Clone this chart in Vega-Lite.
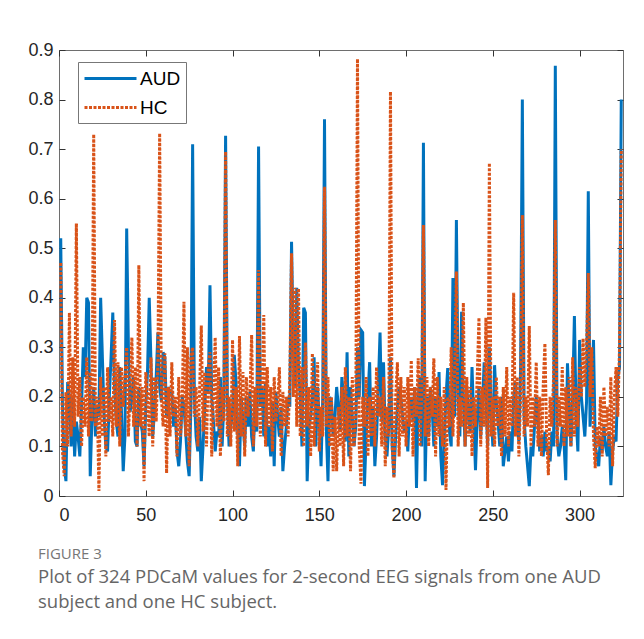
{
"$schema": "https://vega.github.io/schema/vega-lite/v6.json",
"width": 564, "height": 446,
"autosize": {"type": "none"},
"padding": {"left": 59, "top": 50, "right": 21, "bottom": 143},
"background": "white",
"config": {"view": {"stroke": "#6e6e6e", "strokeWidth": 1}, "font": "Liberation Sans"},
"title": {"text": "FIGURE 3", "subtitle": ["Plot of 324 PDCaM values for 2-second EEG signals from one AUD", "subject and one HC subject."], "orient": "bottom", "anchor": "start", "frame": "group", "dx": -21, "offset": 23, "font": "Open Sans", "fontSize": 15, "fontWeight": "normal", "color": "#777777", "subtitleFont": "Open Sans", "subtitleFontSize": 18.5, "subtitleColor": "#666666", "subtitlePadding": 6, "subtitleLineHeight": 25},
"data": {"values": [
{"i":1,"AUD":0.52,"HC":0.47},{"i":2,"AUD":0.18,"HC":0.09},{"i":3,"AUD":0.06,"HC":0.04},{"i":4,"AUD":0.03,"HC":0.21},{"i":5,"AUD":0.23,"HC":0.1},{"i":6,"AUD":0.2,"HC":0.37},{"i":7,"AUD":0.1,"HC":0.12},{"i":8,"AUD":0.2,"HC":0.28},{"i":9,"AUD":0.08,"HC":0.14},{"i":10,"AUD":0.15,"HC":0.55},
{"i":11,"AUD":0.12,"HC":0.16},{"i":12,"AUD":0.08,"HC":0.24},{"i":13,"AUD":0.18,"HC":0.1},{"i":14,"AUD":0.3,"HC":0.2},{"i":15,"AUD":0.24,"HC":0.14},{"i":16,"AUD":0.4,"HC":0.28},{"i":17,"AUD":0.39,"HC":0.12},{"i":18,"AUD":0.04,"HC":0.25},{"i":19,"AUD":0.16,"HC":0.15},{"i":20,"AUD":0.22,"HC":0.73},
{"i":21,"AUD":0.12,"HC":0.14},{"i":22,"AUD":0.18,"HC":0.2},{"i":23,"AUD":0.16,"HC":0.01},{"i":24,"AUD":0.4,"HC":0.24},{"i":25,"AUD":0.28,"HC":0.12},{"i":26,"AUD":0.16,"HC":0.22},{"i":27,"AUD":0.1,"HC":0.08},{"i":28,"AUD":0.09,"HC":0.26},{"i":29,"AUD":0.2,"HC":0.15},{"i":30,"AUD":0.28,"HC":0.2},
{"i":31,"AUD":0.37,"HC":0.12},{"i":32,"AUD":0.22,"HC":0.355},{"i":33,"AUD":0.15,"HC":0.14},{"i":34,"AUD":0.12,"HC":0.27},{"i":35,"AUD":0.26,"HC":0.1},{"i":36,"AUD":0.17,"HC":0.26},{"i":37,"AUD":0.05,"HC":0.18},{"i":38,"AUD":0.12,"HC":0.24},{"i":39,"AUD":0.54,"HC":0.3},{"i":40,"AUD":0.3,"HC":0.12},
{"i":41,"AUD":0.17,"HC":0.22},{"i":42,"AUD":0.2,"HC":0.32},{"i":43,"AUD":0.24,"HC":0.14},{"i":44,"AUD":0.11,"HC":0.26},{"i":45,"AUD":0.1,"HC":0.1},{"i":46,"AUD":0.22,"HC":0.466},{"i":47,"AUD":0.15,"HC":0.14},{"i":48,"AUD":0.13,"HC":0.22},{"i":49,"AUD":0.06,"HC":0.03},{"i":50,"AUD":0.18,"HC":0.25},
{"i":51,"AUD":0.25,"HC":0.2},{"i":52,"AUD":0.4,"HC":0.12},{"i":53,"AUD":0.27,"HC":0.28},{"i":54,"AUD":0.12,"HC":0.1},{"i":55,"AUD":0.17,"HC":0.24},{"i":56,"AUD":0.24,"HC":0.15},{"i":57,"AUD":0.33,"HC":0.27},{"i":58,"AUD":0.22,"HC":0.732},{"i":59,"AUD":0.19,"HC":0.2},{"i":60,"AUD":0.29,"HC":0.14},
{"i":61,"AUD":0.28,"HC":0.288},{"i":62,"AUD":0.16,"HC":0.046},{"i":63,"AUD":0.22,"HC":0.22},{"i":64,"AUD":0.21,"HC":0.12},{"i":65,"AUD":0.21,"HC":0.27},{"i":66,"AUD":0.14,"HC":0.16},{"i":67,"AUD":0.18,"HC":0.2},{"i":68,"AUD":0.09,"HC":0.08},{"i":69,"AUD":0.06,"HC":0.24},{"i":70,"AUD":0.11,"HC":0.12},
{"i":71,"AUD":0.2,"HC":0.18},{"i":72,"AUD":0.18,"HC":0.392},{"i":73,"AUD":0.13,"HC":0.12},{"i":74,"AUD":0.07,"HC":0.3},{"i":75,"AUD":0.04,"HC":0.06},{"i":76,"AUD":0.18,"HC":0.28},{"i":77,"AUD":0.71,"HC":0.3},{"i":78,"AUD":0.2,"HC":0.16},{"i":79,"AUD":0.12,"HC":0.22},{"i":80,"AUD":0.09,"HC":0.1},
{"i":81,"AUD":0.16,"HC":0.21},{"i":82,"AUD":0.03,"HC":0.344},{"i":83,"AUD":0.1,"HC":0.13},{"i":84,"AUD":0.18,"HC":0.25},{"i":85,"AUD":0.26,"HC":0.1},{"i":86,"AUD":0.21,"HC":0.26},{"i":87,"AUD":0.425,"HC":0.29},{"i":88,"AUD":0.2,"HC":0.08},{"i":89,"AUD":0.15,"HC":0.2},{"i":90,"AUD":0.09,"HC":0.32},
{"i":91,"AUD":0.13,"HC":0.14},{"i":92,"AUD":0.12,"HC":0.26},{"i":93,"AUD":0.24,"HC":0.08},{"i":94,"AUD":0.1,"HC":0.22},{"i":95,"AUD":0.19,"HC":0.15},{"i":96,"AUD":0.727,"HC":0.695},{"i":97,"AUD":0.2,"HC":0.12},{"i":98,"AUD":0.1,"HC":0.2},{"i":99,"AUD":0.14,"HC":0.1},{"i":100,"AUD":0.17,"HC":0.315},
{"i":101,"AUD":0.285,"HC":0.13},{"i":102,"AUD":0.23,"HC":0.22},{"i":103,"AUD":0.13,"HC":0.06},{"i":104,"AUD":0.06,"HC":0.323},{"i":105,"AUD":0.2,"HC":0.12},{"i":106,"AUD":0.15,"HC":0.25},{"i":107,"AUD":0.1,"HC":0.08},{"i":108,"AUD":0.2,"HC":0.24},{"i":109,"AUD":0.14,"HC":0.16},{"i":110,"AUD":0.21,"HC":0.2},
{"i":111,"AUD":0.12,"HC":0.325},{"i":112,"AUD":0.09,"HC":0.1},{"i":113,"AUD":0.2,"HC":0.22},{"i":114,"AUD":0.13,"HC":0.14},{"i":115,"AUD":0.705,"HC":0.456},{"i":116,"AUD":0.18,"HC":0.12},{"i":117,"AUD":0.22,"HC":0.2},{"i":118,"AUD":0.12,"HC":0.365},{"i":119,"AUD":0.23,"HC":0.1},{"i":120,"AUD":0.1,"HC":0.26},
{"i":121,"AUD":0.14,"HC":0.14},{"i":122,"AUD":0.08,"HC":0.22},{"i":123,"AUD":0.19,"HC":0.09},{"i":124,"AUD":0.06,"HC":0.24},{"i":125,"AUD":0.21,"HC":0.15},{"i":126,"AUD":0.16,"HC":0.18},{"i":127,"AUD":0.12,"HC":0.26},{"i":128,"AUD":0.18,"HC":0.08},{"i":129,"AUD":0.05,"HC":0.21},{"i":130,"AUD":0.1,"HC":0.14},
{"i":131,"AUD":0.14,"HC":0.2},{"i":132,"AUD":0.2,"HC":0.12},{"i":133,"AUD":0.18,"HC":0.24},{"i":134,"AUD":0.513,"HC":0.49},{"i":135,"AUD":0.3,"HC":0.2},{"i":136,"AUD":0.22,"HC":0.42},{"i":137,"AUD":0.42,"HC":0.14},{"i":138,"AUD":0.26,"HC":0.419},{"i":139,"AUD":0.2,"HC":0.12},{"i":140,"AUD":0.1,"HC":0.26},
{"i":141,"AUD":0.38,"HC":0.1},{"i":142,"AUD":0.37,"HC":0.31},{"i":143,"AUD":0.03,"HC":0.14},{"i":144,"AUD":0.14,"HC":0.22},{"i":145,"AUD":0.16,"HC":0.08},{"i":146,"AUD":0.2,"HC":0.288},{"i":147,"AUD":0.28,"HC":0.1},{"i":148,"AUD":0.1,"HC":0.2},{"i":149,"AUD":0.22,"HC":0.27},{"i":150,"AUD":0.15,"HC":0.09},
{"i":151,"AUD":0.06,"HC":0.18},{"i":152,"AUD":0.2,"HC":0.12},{"i":153,"AUD":0.76,"HC":0.624},{"i":154,"AUD":0.14,"HC":0.14},{"i":155,"AUD":0.03,"HC":0.24},{"i":156,"AUD":0.2,"HC":0.1},{"i":157,"AUD":0.19,"HC":0.2},{"i":158,"AUD":0.12,"HC":0.05},{"i":159,"AUD":0.16,"HC":0.16},{"i":160,"AUD":0.22,"HC":0.05},
{"i":161,"AUD":0.18,"HC":0.18},{"i":162,"AUD":0.13,"HC":0.1},{"i":163,"AUD":0.24,"HC":0.22},{"i":164,"AUD":0.2,"HC":0.06},{"i":165,"AUD":0.11,"HC":0.26},{"i":166,"AUD":0.29,"HC":0.12},{"i":167,"AUD":0.08,"HC":0.2},{"i":168,"AUD":0.22,"HC":0.05},{"i":169,"AUD":0.16,"HC":0.24},{"i":170,"AUD":0.1,"HC":0.1},
{"i":171,"AUD":0.14,"HC":0.16},{"i":172,"AUD":0.3,"HC":0.882},{"i":173,"AUD":0.2,"HC":0.1},{"i":174,"AUD":0.335,"HC":0.025},{"i":175,"AUD":0.33,"HC":0.2},{"i":176,"AUD":0.02,"HC":0.14},{"i":177,"AUD":0.12,"HC":0.24},{"i":178,"AUD":0.2,"HC":0.08},{"i":179,"AUD":0.27,"HC":0.2},{"i":180,"AUD":0.1,"HC":0.12},
{"i":181,"AUD":0.18,"HC":0.22},{"i":182,"AUD":0.06,"HC":0.1},{"i":183,"AUD":0.12,"HC":0.26},{"i":184,"AUD":0.22,"HC":0.16},{"i":185,"AUD":0.33,"HC":0.2},{"i":186,"AUD":0.15,"HC":0.1},{"i":187,"AUD":0.27,"HC":0.24},{"i":188,"AUD":0.12,"HC":0.06},{"i":189,"AUD":0.08,"HC":0.18},{"i":190,"AUD":0.14,"HC":0.12},
{"i":191,"AUD":0.28,"HC":0.816},{"i":192,"AUD":0.1,"HC":0.1},{"i":193,"AUD":0.04,"HC":0.036},{"i":194,"AUD":0.12,"HC":0.2},{"i":195,"AUD":0.18,"HC":0.27},{"i":196,"AUD":0.22,"HC":0.08},{"i":197,"AUD":0.2,"HC":0.24},{"i":198,"AUD":0.16,"HC":0.12},{"i":199,"AUD":0.13,"HC":0.22},{"i":200,"AUD":0.15,"HC":0.1},
{"i":201,"AUD":0.09,"HC":0.24},{"i":202,"AUD":0.18,"HC":0.14},{"i":203,"AUD":0.2,"HC":0.274},{"i":204,"AUD":0.15,"HC":0.08},{"i":205,"AUD":0.22,"HC":0.22},{"i":206,"AUD":0.016,"HC":0.16},{"i":207,"AUD":0.2,"HC":0.278},{"i":208,"AUD":0.24,"HC":0.1},{"i":209,"AUD":0.1,"HC":0.2},{"i":210,"AUD":0.713,"HC":0.547},
{"i":211,"AUD":0.03,"HC":0.12},{"i":212,"AUD":0.2,"HC":0.24},{"i":213,"AUD":0.12,"HC":0.1},{"i":214,"AUD":0.22,"HC":0.22},{"i":215,"AUD":0.18,"HC":0.16},{"i":216,"AUD":0.1,"HC":0.278},{"i":217,"AUD":0.2,"HC":0.08},{"i":218,"AUD":0.14,"HC":0.24},{"i":219,"AUD":0.25,"HC":0.12},{"i":220,"AUD":0.08,"HC":0.2},
{"i":221,"AUD":0.022,"HC":0.1},{"i":222,"AUD":0.12,"HC":0.22},{"i":223,"AUD":0.2,"HC":0.012},{"i":224,"AUD":0.258,"HC":0.2},{"i":225,"AUD":0.13,"HC":0.14},{"i":226,"AUD":0.1,"HC":0.3},{"i":227,"AUD":0.44,"HC":0.12},{"i":228,"AUD":0.16,"HC":0.25},{"i":229,"AUD":0.557,"HC":0.453},{"i":230,"AUD":0.2,"HC":0.1},
{"i":231,"AUD":0.12,"HC":0.2},{"i":232,"AUD":0.372,"HC":0.14},{"i":233,"AUD":0.2,"HC":0.39},{"i":234,"AUD":0.1,"HC":0.1},{"i":235,"AUD":0.22,"HC":0.24},{"i":236,"AUD":0.16,"HC":0.12},{"i":237,"AUD":0.13,"HC":0.22},{"i":238,"AUD":0.26,"HC":0.08},{"i":239,"AUD":0.15,"HC":0.2},{"i":240,"AUD":0.052,"HC":0.14},
{"i":241,"AUD":0.16,"HC":0.24},{"i":242,"AUD":0.22,"HC":0.36},{"i":243,"AUD":0.12,"HC":0.1},{"i":244,"AUD":0.18,"HC":0.22},{"i":245,"AUD":0.27,"HC":0.14},{"i":246,"AUD":0.2,"HC":0.36},{"i":247,"AUD":0.1,"HC":0.016},{"i":248,"AUD":0.3,"HC":0.672},{"i":249,"AUD":0.17,"HC":0.12},{"i":250,"AUD":0.1,"HC":0.2},
{"i":251,"AUD":0.264,"HC":0.1},{"i":252,"AUD":0.19,"HC":0.24},{"i":253,"AUD":0.15,"HC":0.14},{"i":254,"AUD":0.1,"HC":0.2},{"i":255,"AUD":0.2,"HC":0.08},{"i":256,"AUD":0.06,"HC":0.22},{"i":257,"AUD":0.09,"HC":0.12},{"i":258,"AUD":0.12,"HC":0.26},{"i":259,"AUD":0.07,"HC":0.1},{"i":260,"AUD":0.13,"HC":0.2},
{"i":261,"AUD":0.09,"HC":0.14},{"i":262,"AUD":0.2,"HC":0.41},{"i":263,"AUD":0.23,"HC":0.12},{"i":264,"AUD":0.14,"HC":0.24},{"i":265,"AUD":0.11,"HC":0.08},{"i":266,"AUD":0.26,"HC":0.2},{"i":267,"AUD":0.8,"HC":0.567},{"i":268,"AUD":0.16,"HC":0.12},{"i":269,"AUD":0.1,"HC":0.2},{"i":270,"AUD":0.06,"HC":0.14},
{"i":271,"AUD":0.02,"HC":0.343},{"i":272,"AUD":0.1,"HC":0.1},{"i":273,"AUD":0.08,"HC":0.2},{"i":274,"AUD":0.14,"HC":0.14},{"i":275,"AUD":0.2,"HC":0.27},{"i":276,"AUD":0.15,"HC":0.1},{"i":277,"AUD":0.09,"HC":0.2},{"i":278,"AUD":0.12,"HC":0.08},{"i":279,"AUD":0.08,"HC":0.22},{"i":280,"AUD":0.13,"HC":0.308},
{"i":281,"AUD":0.09,"HC":0.12},{"i":282,"AUD":0.1,"HC":0.042},{"i":283,"AUD":0.07,"HC":0.2},{"i":284,"AUD":0.13,"HC":0.14},{"i":285,"AUD":0.1,"HC":0.24},{"i":286,"AUD":0.868,"HC":0.557},{"i":287,"AUD":0.12,"HC":0.1},{"i":288,"AUD":0.08,"HC":0.2},{"i":289,"AUD":0.1,"HC":0.14},{"i":290,"AUD":0.14,"HC":0.26},
{"i":291,"AUD":0.11,"HC":0.1},{"i":292,"AUD":0.032,"HC":0.22},{"i":293,"AUD":0.268,"HC":0.12},{"i":294,"AUD":0.18,"HC":0.24},{"i":295,"AUD":0.1,"HC":0.1},{"i":296,"AUD":0.2,"HC":0.28},{"i":297,"AUD":0.363,"HC":0.12},{"i":298,"AUD":0.16,"HC":0.22},{"i":299,"AUD":0.09,"HC":0.14},{"i":300,"AUD":0.315,"HC":0.26},
{"i":301,"AUD":0.2,"HC":0.2},{"i":302,"AUD":0.16,"HC":0.318},{"i":303,"AUD":0.12,"HC":0.22},{"i":304,"AUD":0.19,"HC":0.3},{"i":305,"AUD":0.615,"HC":0.45},{"i":306,"AUD":0.14,"HC":0.2},{"i":307,"AUD":0.2,"HC":0.3},{"i":308,"AUD":0.315,"HC":0.12},{"i":309,"AUD":0.1,"HC":0.056},{"i":310,"AUD":0.08,"HC":0.14},
{"i":311,"AUD":0.06,"HC":0.1},{"i":312,"AUD":0.12,"HC":0.2},{"i":313,"AUD":0.09,"HC":0.08},{"i":314,"AUD":0.14,"HC":0.22},{"i":315,"AUD":0.1,"HC":0.12},{"i":316,"AUD":0.08,"HC":0.18},{"i":317,"AUD":0.13,"HC":0.1},{"i":318,"AUD":0.022,"HC":0.24},{"i":319,"AUD":0.09,"HC":0.06},{"i":320,"AUD":0.12,"HC":0.2},
{"i":321,"AUD":0.11,"HC":0.26},{"i":322,"AUD":0.24,"HC":0.16},{"i":323,"AUD":0.26,"HC":0.3},{"i":324,"AUD":0.8,"HC":0.7}
]},
"transform": [{"fold": ["AUD", "HC"], "as": ["series", "value"]}],
"layer": [
{"mark": {"type": "line", "strokeWidth": 3, "strokeCap": "butt", "strokeJoin": "miter"},
 "encoding": {
  "x": {"field": "i", "type": "quantitative", "scale": {"domain": [0, 325], "nice": false, "zero": false},
        "axis": {"orient": "bottom", "title": null, "values": [0, 50, 100, 150, 200, 250, 300], "grid": false, "domain": false, "tickSize": -6, "tickColor": "#333333", "labelPadding": 16, "labelFont": "Liberation Sans", "labelFontSize": 18, "labelColor": "#262626"}},
  "y": {"field": "value", "type": "quantitative", "scale": {"domain": [0, 0.9], "nice": false},
        "axis": {"orient": "left", "title": null, "values": [0, 0.1, 0.2, 0.3, 0.4, 0.5, 0.6, 0.7, 0.8, 0.9], "format": ".1~f", "grid": false, "domain": false, "tickSize": -6, "tickColor": "#333333", "labelPadding": 12, "labelFont": "Liberation Sans", "labelFontSize": 18, "labelColor": "#262626"}},
  "color": {"field": "series", "type": "nominal", "scale": {"domain": ["AUD", "HC"], "range": ["#0072BD", "#D95319"]},
            "legend": {"title": null, "orient": "none", "legendX": 19, "legendY": 12, "strokeColor": "#777777", "fillColor": "white", "padding": 5, "symbolType": "M-1,0H4.2", "symbolSize": 400, "symbolStrokeWidth": 3, "labelFont": "Liberation Sans", "labelFontSize": 19, "labelColor": "#000000", "labelOffset": 34, "rowPadding": 7}},
  "strokeDash": {"field": "series", "type": "nominal", "scale": {"domain": ["AUD", "HC"], "range": [[1, 0], [3, 1.5]]}, "legend": {"title": null}}
 }},
{"mark": {"type": "line", "opacity": 0},
 "encoding": {
  "x": {"field": "i", "type": "quantitative", "axis": {"orient": "top", "title": null, "values": [0, 50, 100, 150, 200, 250, 300], "labels": false, "grid": false, "domain": false, "tickSize": -6, "tickColor": "#333333"}},
  "y": {"field": "value", "type": "quantitative", "axis": {"orient": "right", "title": null, "values": [0, 0.1, 0.2, 0.3, 0.4, 0.5, 0.6, 0.7, 0.8, 0.9], "labels": false, "grid": false, "domain": false, "tickSize": -6, "tickColor": "#333333"}},
  "detail": {"field": "series"}
 }}
],
"resolve": {"axis": {"x": "independent", "y": "independent"}}
}
